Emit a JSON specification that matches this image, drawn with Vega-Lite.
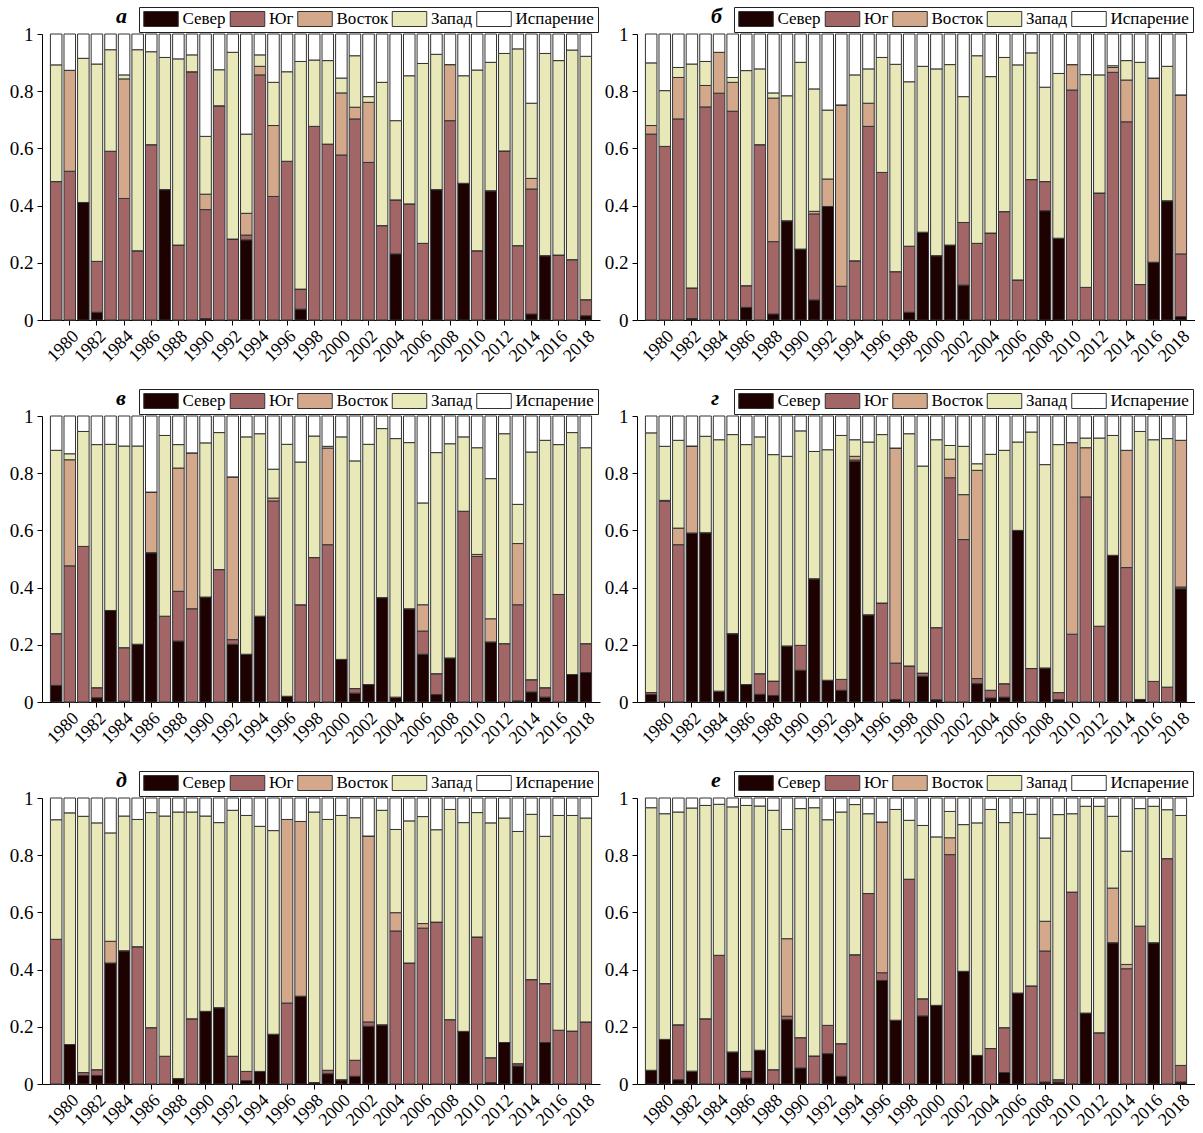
{
"$schema": "https://vega.github.io/schema/vega-lite/v6.json",
"padding": {"left": 9, "top": 4, "right": 0, "bottom": 0},
"config": {
 "font": "Liberation Serif",
 "view": {"stroke": null},
 "axis": {"grid": false, "domainColor": "#000", "tickColor": "#000", "labelColor": "#000", "labelFont": "Liberation Serif", "labelFontSize": 18, "title": null, "tickSize": 5, "domainWidth": 1, "tickWidth": 1},
 "legend": {"orient": "none", "legendX": 97, "legendY": -27, "direction": "horizontal", "title": null, "symbolType": "M-2.3,-1H2.3V1H-2.3Z", "symbolSize": 225, "symbolStrokeColor": "#333", "symbolStrokeWidth": 1, "symbolOffset": 10, "labelOffset": 13, "labelFont": "Liberation Serif", "labelFontSize": 17, "labelColor": "#000", "strokeColor": "#222", "fillColor": "#fff", "padding": 3.5, "columnPadding": 1.5, "symbolOpacity": 1},
 "title": {"font": "Liberation Serif", "fontSize": 22, "fontStyle": "italic", "fontWeight": "bold", "anchor": "start", "frame": "group", "dx": 74, "dy": 25, "color": "#000"}
},
"datasets": {
"a": [
{"year":1979,"Север":0,"Юг":0.484,"Восток":0,"Запад":0.408,"Испарение":0.108},
{"year":1980,"Север":0,"Юг":0.52,"Восток":0.353,"Запад":0,"Испарение":0.127},
{"year":1981,"Север":0.411,"Юг":0,"Восток":0,"Запад":0.504,"Испарение":0.085},
{"year":1982,"Север":0.027,"Юг":0.178,"Восток":0,"Запад":0.69,"Испарение":0.105},
{"year":1983,"Север":0,"Юг":0.59,"Восток":0,"Запад":0.355,"Испарение":0.055},
{"year":1984,"Север":0,"Юг":0.425,"Восток":0.418,"Запад":0.014,"Испарение":0.143},
{"year":1985,"Север":0,"Юг":0.242,"Восток":0,"Запад":0.703,"Испарение":0.055},
{"year":1986,"Север":0,"Юг":0.613,"Восток":0,"Запад":0.325,"Испарение":0.062},
{"year":1987,"Север":0.456,"Юг":0,"Восток":0,"Запад":0.462,"Испарение":0.082},
{"year":1988,"Север":0,"Юг":0.262,"Восток":0,"Запад":0.651,"Испарение":0.087},
{"year":1989,"Север":0,"Юг":0.868,"Восток":0,"Запад":0.059,"Испарение":0.073},
{"year":1990,"Север":0.005,"Юг":0.381,"Восток":0.054,"Запад":0.202,"Испарение":0.358},
{"year":1991,"Север":0,"Юг":0.749,"Восток":0,"Запад":0.126,"Испарение":0.125},
{"year":1992,"Север":0,"Юг":0.283,"Восток":0,"Запад":0.653,"Испарение":0.064},
{"year":1993,"Север":0.28,"Юг":0.017,"Восток":0.076,"Запад":0.277,"Испарение":0.35},
{"year":1994,"Север":0,"Юг":0.857,"Восток":0.03,"Запад":0.04,"Испарение":0.073},
{"year":1995,"Север":0,"Юг":0.432,"Восток":0.248,"Запад":0.151,"Испарение":0.169},
{"year":1996,"Север":0,"Юг":0.555,"Восток":0,"Запад":0.313,"Испарение":0.132},
{"year":1997,"Север":0.038,"Юг":0.07,"Восток":0,"Запад":0.796,"Испарение":0.096},
{"year":1998,"Север":0,"Юг":0.677,"Восток":0,"Запад":0.232,"Испарение":0.091},
{"year":1999,"Север":0,"Юг":0.615,"Восток":0,"Запад":0.292,"Испарение":0.093},
{"year":2000,"Север":0,"Юг":0.577,"Восток":0.217,"Запад":0.052,"Испарение":0.154},
{"year":2001,"Север":0,"Юг":0.703,"Восток":0.041,"Запад":0.18,"Испарение":0.076},
{"year":2002,"Север":0,"Юг":0.551,"Восток":0.21,"Запад":0.02,"Испарение":0.219},
{"year":2003,"Север":0,"Юг":0.33,"Восток":0,"Запад":0.501,"Испарение":0.169},
{"year":2004,"Север":0.231,"Юг":0.189,"Восток":0,"Запад":0.277,"Испарение":0.303},
{"year":2005,"Север":0,"Юг":0.406,"Восток":0,"Запад":0.448,"Испарение":0.146},
{"year":2006,"Север":0,"Юг":0.268,"Восток":0,"Запад":0.629,"Испарение":0.103},
{"year":2007,"Север":0.456,"Юг":0,"Восток":0,"Запад":0.473,"Испарение":0.071},
{"year":2008,"Север":0,"Юг":0.697,"Восток":0.196,"Запад":0,"Испарение":0.107},
{"year":2009,"Север":0.478,"Юг":0,"Восток":0,"Запад":0.376,"Испарение":0.146},
{"year":2010,"Север":0,"Юг":0.242,"Восток":0,"Запад":0.632,"Испарение":0.126},
{"year":2011,"Север":0.452,"Юг":0,"Восток":0,"Запад":0.449,"Испарение":0.099},
{"year":2012,"Север":0,"Юг":0.591,"Восток":0,"Запад":0.341,"Испарение":0.068},
{"year":2013,"Север":0,"Юг":0.26,"Восток":0,"Запад":0.688,"Испарение":0.052},
{"year":2014,"Север":0.021,"Юг":0.437,"Восток":0.037,"Запад":0.263,"Испарение":0.242},
{"year":2015,"Север":0.225,"Юг":0,"Восток":0,"Запад":0.707,"Испарение":0.068},
{"year":2016,"Север":0,"Юг":0.227,"Восток":0,"Запад":0.68,"Испарение":0.093},
{"year":2017,"Север":0,"Юг":0.211,"Восток":0,"Запад":0.733,"Испарение":0.056},
{"year":2018,"Север":0.015,"Юг":0.056,"Восток":0,"Запад":0.851,"Испарение":0.078}
],
"b": [
{"year":1979,"Север":0,"Юг":0.65,"Восток":0.03,"Запад":0.219,"Испарение":0.101},
{"year":1980,"Север":0,"Юг":0.607,"Восток":0,"Запад":0.195,"Испарение":0.198},
{"year":1981,"Север":0,"Юг":0.703,"Восток":0.145,"Запад":0.035,"Испарение":0.117},
{"year":1982,"Север":0.005,"Юг":0.107,"Восток":0,"Запад":0.783,"Испарение":0.105},
{"year":1983,"Север":0,"Юг":0.745,"Восток":0.075,"Запад":0.084,"Испарение":0.096},
{"year":1984,"Север":0,"Юг":0.793,"Восток":0.143,"Запад":0,"Испарение":0.064},
{"year":1985,"Север":0,"Юг":0.73,"Восток":0.101,"Запад":0.017,"Испарение":0.152},
{"year":1986,"Север":0.044,"Юг":0.076,"Восток":0,"Запад":0.752,"Испарение":0.128},
{"year":1987,"Север":0,"Юг":0.613,"Восток":0,"Запад":0.265,"Испарение":0.122},
{"year":1988,"Север":0.021,"Юг":0.253,"Восток":0.502,"Запад":0.018,"Испарение":0.206},
{"year":1989,"Север":0.347,"Юг":0,"Восток":0,"Запад":0.437,"Испарение":0.216},
{"year":1990,"Север":0.248,"Юг":0,"Восток":0,"Запад":0.653,"Испарение":0.099},
{"year":1991,"Север":0.07,"Юг":0.301,"Восток":0.009,"Запад":0.428,"Испарение":0.192},
{"year":1992,"Север":0.397,"Юг":0,"Восток":0.096,"Запад":0.241,"Испарение":0.266},
{"year":1993,"Север":0,"Юг":0.118,"Восток":0.634,"Запад":0,"Испарение":0.248},
{"year":1994,"Север":0,"Юг":0.207,"Восток":0,"Запад":0.65,"Испарение":0.143},
{"year":1995,"Север":0,"Юг":0.677,"Восток":0.081,"Запад":0.12,"Испарение":0.122},
{"year":1996,"Север":0,"Юг":0.516,"Восток":0,"Запад":0.402,"Испарение":0.082},
{"year":1997,"Север":0,"Юг":0.169,"Восток":0,"Запад":0.725,"Испарение":0.106},
{"year":1998,"Север":0.027,"Юг":0.231,"Восток":0,"Запад":0.575,"Испарение":0.167},
{"year":1999,"Север":0.307,"Юг":0,"Восток":0,"Запад":0.58,"Испарение":0.113},
{"year":2000,"Север":0.225,"Юг":0,"Восток":0,"Запад":0.653,"Испарение":0.122},
{"year":2001,"Север":0.262,"Юг":0,"Восток":0,"Запад":0.631,"Испарение":0.107},
{"year":2002,"Север":0.122,"Юг":0.219,"Восток":0,"Запад":0.44,"Испарение":0.219},
{"year":2003,"Север":0,"Юг":0.268,"Восток":0,"Запад":0.656,"Испарение":0.076},
{"year":2004,"Север":0,"Юг":0.304,"Восток":0,"Запад":0.547,"Испарение":0.149},
{"year":2005,"Север":0,"Юг":0.379,"Восток":0,"Запад":0.539,"Испарение":0.082},
{"year":2006,"Север":0,"Юг":0.14,"Восток":0,"Запад":0.752,"Испарение":0.108},
{"year":2007,"Север":0,"Юг":0.491,"Восток":0,"Запад":0.443,"Испарение":0.066},
{"year":2008,"Север":0.382,"Юг":0.102,"Восток":0,"Запад":0.33,"Испарение":0.186},
{"year":2009,"Север":0.286,"Юг":0,"Восток":0,"Запад":0.576,"Испарение":0.138},
{"year":2010,"Север":0,"Юг":0.804,"Восток":0.089,"Запад":0,"Испарение":0.107},
{"year":2011,"Север":0,"Юг":0.114,"Восток":0,"Запад":0.744,"Испарение":0.142},
{"year":2012,"Север":0,"Юг":0.444,"Восток":0,"Запад":0.413,"Испарение":0.143},
{"year":2013,"Север":0,"Юг":0.866,"Восток":0.017,"Запад":0.006,"Испарение":0.111},
{"year":2014,"Север":0,"Юг":0.693,"Восток":0.146,"Запад":0.068,"Испарение":0.093},
{"year":2015,"Север":0,"Юг":0.124,"Восток":0,"Запад":0.777,"Испарение":0.099},
{"year":2016,"Север":0.202,"Юг":0,"Восток":0.644,"Запад":0,"Испарение":0.154},
{"year":2017,"Север":0.417,"Юг":0,"Восток":0,"Запад":0.47,"Испарение":0.113},
{"year":2018,"Север":0.012,"Юг":0.219,"Восток":0.556,"Запад":0,"Испарение":0.213}
],
"c": [
{"year":1979,"Север":0.058,"Юг":0.181,"Восток":0,"Запад":0.641,"Испарение":0.12},
{"year":1980,"Север":0,"Юг":0.476,"Восток":0.371,"Запад":0.021,"Испарение":0.132},
{"year":1981,"Север":0,"Юг":0.544,"Восток":0,"Запад":0.402,"Испарение":0.054},
{"year":1982,"Север":0.015,"Юг":0.035,"Восток":0,"Запад":0.85,"Испарение":0.1},
{"year":1983,"Север":0.32,"Юг":0,"Восток":0,"Запад":0.581,"Испарение":0.099},
{"year":1984,"Север":0.003,"Юг":0.187,"Восток":0,"Запад":0.705,"Испарение":0.105},
{"year":1985,"Север":0.202,"Юг":0,"Восток":0,"Запад":0.693,"Испарение":0.105},
{"year":1986,"Север":0.522,"Юг":0,"Восток":0.212,"Запад":0,"Испарение":0.266},
{"year":1987,"Север":0,"Юг":0.3,"Восток":0,"Запад":0.632,"Испарение":0.068},
{"year":1988,"Север":0.213,"Юг":0.174,"Восток":0.431,"Запад":0.082,"Испарение":0.1},
{"year":1989,"Север":0,"Юг":0.326,"Восток":0.545,"Запад":0,"Испарение":0.129},
{"year":1990,"Север":0.367,"Юг":0,"Восток":0,"Запад":0.539,"Испарение":0.094},
{"year":1991,"Север":0,"Юг":0.463,"Восток":0,"Запад":0.479,"Испарение":0.058},
{"year":1992,"Север":0.202,"Юг":0.016,"Восток":0.569,"Запад":0,"Испарение":0.213},
{"year":1993,"Север":0.167,"Юг":0,"Восток":0,"Запад":0.76,"Испарение":0.073},
{"year":1994,"Север":0.3,"Юг":0,"Восток":0,"Запад":0.638,"Испарение":0.062},
{"year":1995,"Север":0,"Юг":0.703,"Восток":0.01,"Запад":0.101,"Испарение":0.186},
{"year":1996,"Север":0.02,"Юг":0,"Восток":0,"Запад":0.881,"Испарение":0.099},
{"year":1997,"Север":0,"Юг":0.34,"Восток":0,"Запад":0.499,"Испарение":0.161},
{"year":1998,"Север":0,"Юг":0.505,"Восток":0,"Запад":0.425,"Испарение":0.07},
{"year":1999,"Север":0,"Юг":0.55,"Восток":0.338,"Запад":0.006,"Испарение":0.106},
{"year":2000,"Север":0.149,"Юг":0,"Восток":0,"Запад":0.778,"Испарение":0.073},
{"year":2001,"Север":0.031,"Юг":0.016,"Восток":0,"Запад":0.796,"Испарение":0.157},
{"year":2002,"Север":0.061,"Юг":0,"Восток":0,"Запад":0.84,"Испарение":0.099},
{"year":2003,"Север":0.365,"Юг":0,"Восток":0,"Запад":0.591,"Испарение":0.044},
{"year":2004,"Север":0.017,"Юг":0,"Восток":0,"Запад":0.904,"Испарение":0.079},
{"year":2005,"Север":0.326,"Юг":0,"Восток":0,"Запад":0.581,"Испарение":0.093},
{"year":2006,"Север":0.167,"Юг":0.081,"Восток":0.092,"Запад":0.356,"Испарение":0.304},
{"year":2007,"Север":0.026,"Юг":0.073,"Восток":0,"Запад":0.773,"Испарение":0.128},
{"year":2008,"Север":0.154,"Юг":0,"Восток":0,"Запад":0.749,"Испарение":0.097},
{"year":2009,"Север":0,"Юг":0.667,"Восток":0,"Запад":0.26,"Испарение":0.073},
{"year":2010,"Север":0,"Юг":0.509,"Восток":0.007,"Запад":0.373,"Испарение":0.111},
{"year":2011,"Север":0.21,"Юг":0,"Восток":0.081,"Запад":0.49,"Испарение":0.219},
{"year":2012,"Север":0,"Юг":0.204,"Восток":0,"Запад":0.734,"Испарение":0.062},
{"year":2013,"Север":0.004,"Юг":0.336,"Восток":0.214,"Запад":0.137,"Испарение":0.309},
{"year":2014,"Север":0.035,"Юг":0.043,"Восток":0,"Запад":0.796,"Испарение":0.126},
{"year":2015,"Север":0.017,"Юг":0.033,"Восток":0,"Запад":0.865,"Испарение":0.085},
{"year":2016,"Север":0,"Юг":0.376,"Восток":0,"Запад":0.524,"Испарение":0.1},
{"year":2017,"Север":0.096,"Юг":0,"Восток":0,"Запад":0.846,"Испарение":0.058},
{"year":2018,"Север":0.103,"Юг":0.101,"Восток":0,"Запад":0.685,"Испарение":0.111}
],
"d": [
{"year":1979,"Север":0.026,"Юг":0.007,"Восток":0,"Запад":0.908,"Испарение":0.059},
{"year":1980,"Север":0,"Юг":0.702,"Восток":0.003,"Запад":0.189,"Испарение":0.106},
{"year":1981,"Север":0,"Юг":0.55,"Восток":0.058,"Запад":0.307,"Испарение":0.085},
{"year":1982,"Север":0.591,"Юг":0,"Восток":0.304,"Запад":0,"Испарение":0.105},
{"year":1983,"Север":0.592,"Юг":0,"Восток":0,"Запад":0.337,"Испарение":0.071},
{"year":1984,"Север":0.038,"Юг":0,"Восток":0,"Запад":0.879,"Испарение":0.083},
{"year":1985,"Север":0.239,"Юг":0,"Восток":0,"Запад":0.696,"Испарение":0.065},
{"year":1986,"Север":0.061,"Юг":0,"Восток":0,"Запад":0.839,"Испарение":0.1},
{"year":1987,"Север":0.027,"Юг":0.072,"Восток":0,"Запад":0.828,"Испарение":0.073},
{"year":1988,"Север":0.023,"Юг":0.05,"Восток":0,"Запад":0.792,"Испарение":0.135},
{"year":1989,"Север":0.196,"Юг":0,"Восток":0,"Запад":0.663,"Испарение":0.141},
{"year":1990,"Север":0.111,"Юг":0.087,"Восток":0,"Запад":0.75,"Испарение":0.052},
{"year":1991,"Север":0.431,"Юг":0,"Восток":0,"Запад":0.445,"Испарение":0.124},
{"year":1992,"Север":0.076,"Юг":0,"Восток":0,"Запад":0.806,"Испарение":0.118},
{"year":1993,"Север":0.041,"Юг":0.038,"Восток":0,"Запад":0.853,"Испарение":0.068},
{"year":1994,"Север":0.841,"Юг":0.005,"Восток":0.013,"Запад":0.058,"Испарение":0.083},
{"year":1995,"Север":0.305,"Юг":0,"Восток":0,"Запад":0.604,"Испарение":0.091},
{"year":1996,"Север":0,"Юг":0.346,"Восток":0,"Запад":0.589,"Испарение":0.065},
{"year":1997,"Север":0.009,"Юг":0.127,"Восток":0.752,"Запад":0,"Испарение":0.112},
{"year":1998,"Север":0,"Юг":0.126,"Восток":0,"Запад":0.812,"Испарение":0.062},
{"year":1999,"Север":0.09,"Юг":0.011,"Восток":0,"Запад":0.724,"Испарение":0.175},
{"year":2000,"Север":0.008,"Юг":0.252,"Восток":0,"Запад":0.657,"Испарение":0.083},
{"year":2001,"Север":0,"Юг":0.784,"Восток":0.065,"Запад":0.048,"Испарение":0.103},
{"year":2002,"Север":0,"Юг":0.568,"Восток":0.157,"Запад":0.169,"Испарение":0.106},
{"year":2003,"Север":0.064,"Юг":0.018,"Восток":0.728,"Запад":0.023,"Испарение":0.167},
{"year":2004,"Север":0.014,"Юг":0.027,"Восток":0,"Запад":0.825,"Испарение":0.134},
{"year":2005,"Север":0.017,"Юг":0.047,"Восток":0,"Запад":0.816,"Испарение":0.12},
{"year":2006,"Север":0.6,"Юг":0,"Восток":0,"Запад":0.309,"Испарение":0.091},
{"year":2007,"Север":0,"Юг":0.117,"Восток":0,"Запад":0.827,"Испарение":0.056},
{"year":2008,"Север":0.119,"Юг":0,"Восток":0,"Запад":0.711,"Испарение":0.17},
{"year":2009,"Север":0.008,"Юг":0.025,"Восток":0,"Запад":0.867,"Испарение":0.1},
{"year":2010,"Север":0,"Юг":0.237,"Восток":0.67,"Запад":0,"Испарение":0.093},
{"year":2011,"Север":0,"Юг":0.717,"Восток":0.172,"Запад":0.034,"Испарение":0.077},
{"year":2012,"Север":0,"Юг":0.265,"Восток":0,"Запад":0.658,"Испарение":0.077},
{"year":2013,"Север":0.513,"Юг":0,"Восток":0,"Запад":0.419,"Испарение":0.068},
{"year":2014,"Север":0,"Юг":0.47,"Восток":0.41,"Запад":0,"Испарение":0.12},
{"year":2015,"Север":0.009,"Юг":0,"Восток":0,"Запад":0.937,"Испарение":0.054},
{"year":2016,"Север":0,"Юг":0.072,"Восток":0,"Запад":0.845,"Испарение":0.083},
{"year":2017,"Север":0,"Юг":0.052,"Восток":0,"Запад":0.869,"Испарение":0.079},
{"year":2018,"Север":0.396,"Юг":0.006,"Восток":0.513,"Запад":0,"Испарение":0.085}
],
"e": [
{"year":1979,"Север":0,"Юг":0.506,"Восток":0,"Запад":0.418,"Испарение":0.076},
{"year":1980,"Север":0.138,"Юг":0,"Восток":0,"Запад":0.81,"Испарение":0.052},
{"year":1981,"Север":0.03,"Юг":0.01,"Восток":0,"Запад":0.896,"Испарение":0.064},
{"year":1982,"Север":0.03,"Юг":0.02,"Восток":0,"Запад":0.863,"Испарение":0.087},
{"year":1983,"Север":0.423,"Юг":0,"Восток":0.076,"Запад":0.379,"Испарение":0.122},
{"year":1984,"Север":0.466,"Юг":0,"Восток":0,"Запад":0.471,"Испарение":0.063},
{"year":1985,"Север":0,"Юг":0.48,"Восток":0,"Запад":0.445,"Испарение":0.075},
{"year":1986,"Север":0,"Юг":0.197,"Восток":0,"Запад":0.752,"Испарение":0.051},
{"year":1987,"Север":0,"Юг":0.097,"Восток":0,"Запад":0.84,"Испарение":0.063},
{"year":1988,"Север":0.019,"Юг":0,"Восток":0,"Запад":0.932,"Испарение":0.049},
{"year":1989,"Север":0,"Юг":0.228,"Восток":0,"Запад":0.723,"Испарение":0.049},
{"year":1990,"Север":0.254,"Юг":0,"Восток":0,"Запад":0.683,"Испарение":0.063},
{"year":1991,"Север":0.267,"Юг":0,"Восток":0,"Запад":0.647,"Испарение":0.086},
{"year":1992,"Север":0,"Юг":0.097,"Восток":0,"Запад":0.86,"Испарение":0.043},
{"year":1993,"Север":0.012,"Юг":0.032,"Восток":0,"Запад":0.895,"Испарение":0.061},
{"year":1994,"Север":0.044,"Юг":0,"Восток":0,"Запад":0.857,"Испарение":0.099},
{"year":1995,"Север":0.174,"Юг":0,"Восток":0,"Запад":0.712,"Испарение":0.114},
{"year":1996,"Север":0,"Юг":0.283,"Восток":0.642,"Запад":0,"Испарение":0.075},
{"year":1997,"Север":0.307,"Юг":0,"Восток":0.611,"Запад":0,"Испарение":0.082},
{"year":1998,"Север":0.005,"Юг":0,"Восток":0,"Запад":0.946,"Испарение":0.049},
{"year":1999,"Север":0.036,"Юг":0.012,"Восток":0,"Запад":0.877,"Испарение":0.075},
{"year":2000,"Север":0.015,"Юг":0,"Восток":0,"Запад":0.924,"Испарение":0.061},
{"year":2001,"Север":0.027,"Юг":0.056,"Восток":0,"Запад":0.848,"Испарение":0.069},
{"year":2002,"Север":0.202,"Юг":0.015,"Восток":0.65,"Запад":0,"Испарение":0.133},
{"year":2003,"Север":0.207,"Юг":0,"Восток":0,"Запад":0.75,"Испарение":0.043},
{"year":2004,"Север":0,"Юг":0.535,"Восток":0.064,"Запад":0.291,"Испарение":0.11},
{"year":2005,"Север":0,"Юг":0.423,"Восток":0,"Запад":0.497,"Испарение":0.08},
{"year":2006,"Север":0,"Юг":0.545,"Восток":0.016,"Запад":0.374,"Испарение":0.065},
{"year":2007,"Север":0,"Юг":0.566,"Восток":0,"Запад":0.323,"Испарение":0.111},
{"year":2008,"Север":0,"Юг":0.225,"Восток":0,"Запад":0.735,"Испарение":0.04},
{"year":2009,"Север":0.184,"Юг":0,"Восток":0,"Запад":0.73,"Испарение":0.086},
{"year":2010,"Север":0,"Юг":0.514,"Восток":0,"Запад":0.435,"Испарение":0.051},
{"year":2011,"Север":0.005,"Юг":0.087,"Восток":0,"Запад":0.821,"Испарение":0.087},
{"year":2012,"Север":0.145,"Юг":0,"Восток":0,"Запад":0.785,"Испарение":0.07},
{"year":2013,"Север":0.063,"Юг":0.008,"Восток":0,"Запад":0.812,"Испарение":0.117},
{"year":2014,"Север":0,"Юг":0.365,"Восток":0,"Запад":0.578,"Испарение":0.057},
{"year":2015,"Север":0.145,"Юг":0.206,"Восток":0,"Запад":0.515,"Испарение":0.134},
{"year":2016,"Север":0,"Юг":0.188,"Восток":0,"Запад":0.751,"Испарение":0.061},
{"year":2017,"Север":0,"Юг":0.185,"Восток":0,"Запад":0.754,"Испарение":0.061},
{"year":2018,"Север":0,"Юг":0.217,"Восток":0,"Запад":0.713,"Испарение":0.07}
],
"f": [
{"year":1979,"Север":0.048,"Юг":0,"Восток":0,"Запад":0.918,"Испарение":0.034},
{"year":1980,"Север":0.156,"Юг":0,"Восток":0,"Запад":0.789,"Испарение":0.055},
{"year":1981,"Север":0.015,"Юг":0.192,"Восток":0,"Запад":0.744,"Испарение":0.049},
{"year":1982,"Север":0.045,"Юг":0,"Восток":0,"Запад":0.92,"Испарение":0.035},
{"year":1983,"Север":0,"Юг":0.228,"Восток":0,"Запад":0.746,"Испарение":0.026},
{"year":1984,"Север":0,"Юг":0.45,"Восток":0,"Запад":0.528,"Испарение":0.022},
{"year":1985,"Север":0.112,"Юг":0,"Восток":0,"Запад":0.857,"Испарение":0.031},
{"year":1986,"Север":0.021,"Юг":0.023,"Восток":0,"Запад":0.93,"Испарение":0.026},
{"year":1987,"Север":0.118,"Юг":0,"Восток":0,"Запад":0.854,"Испарение":0.028},
{"year":1988,"Север":0,"Юг":0.05,"Восток":0,"Запад":0.907,"Испарение":0.043},
{"year":1989,"Север":0.225,"Юг":0.012,"Восток":0.271,"Запад":0.382,"Испарение":0.11},
{"year":1990,"Север":0.056,"Юг":0.106,"Восток":0,"Запад":0.801,"Испарение":0.037},
{"year":1991,"Север":0,"Юг":0.098,"Восток":0,"Запад":0.868,"Испарение":0.034},
{"year":1992,"Север":0.106,"Юг":0.099,"Восток":0,"Запад":0.719,"Испарение":0.076},
{"year":1993,"Север":0.027,"Юг":0.114,"Восток":0,"Запад":0.81,"Испарение":0.049},
{"year":1994,"Север":0,"Юг":0.452,"Восток":0,"Запад":0.525,"Испарение":0.023},
{"year":1995,"Север":0,"Юг":0.666,"Восток":0,"Запад":0.279,"Испарение":0.055},
{"year":1996,"Север":0.362,"Юг":0.027,"Восток":0.527,"Запад":0,"Испарение":0.084},
{"year":1997,"Север":0.223,"Юг":0,"Восток":0,"Запад":0.737,"Испарение":0.04},
{"year":1998,"Север":0,"Юг":0.716,"Восток":0,"Запад":0.206,"Испарение":0.078},
{"year":1999,"Север":0.238,"Юг":0.06,"Восток":0,"Запад":0.606,"Испарение":0.096},
{"year":2000,"Север":0.275,"Юг":0,"Восток":0,"Запад":0.589,"Испарение":0.136},
{"year":2001,"Север":0,"Юг":0.802,"Восток":0.059,"Запад":0.092,"Испарение":0.047},
{"year":2002,"Север":0.394,"Юг":0,"Восток":0,"Запад":0.513,"Испарение":0.093},
{"year":2003,"Север":0.1,"Юг":0,"Восток":0,"Запад":0.813,"Испарение":0.087},
{"year":2004,"Север":0,"Юг":0.124,"Восток":0,"Запад":0.836,"Испарение":0.04},
{"year":2005,"Север":0.04,"Юг":0.157,"Восток":0,"Запад":0.717,"Испарение":0.086},
{"year":2006,"Север":0.318,"Юг":0,"Восток":0,"Запад":0.631,"Испарение":0.051},
{"year":2007,"Север":0,"Юг":0.343,"Восток":0,"Запад":0.6,"Испарение":0.057},
{"year":2008,"Север":0.007,"Юг":0.458,"Восток":0.104,"Запад":0.291,"Испарение":0.14},
{"year":2009,"Север":0.007,"Юг":0.008,"Восток":0,"Запад":0.927,"Испарение":0.058},
{"year":2010,"Север":0,"Юг":0.671,"Восток":0,"Запад":0.274,"Испарение":0.055},
{"year":2011,"Север":0.248,"Юг":0,"Восток":0,"Запад":0.723,"Испарение":0.029},
{"year":2012,"Север":0,"Юг":0.179,"Восток":0,"Запад":0.792,"Испарение":0.029},
{"year":2013,"Север":0.494,"Юг":0,"Восток":0.191,"Запад":0.251,"Испарение":0.064},
{"year":2014,"Север":0,"Юг":0.403,"Восток":0.015,"Запад":0.396,"Испарение":0.186},
{"year":2015,"Север":0,"Юг":0.552,"Восток":0,"Запад":0.411,"Испарение":0.037},
{"year":2016,"Север":0.494,"Юг":0,"Восток":0,"Запад":0.477,"Испарение":0.029},
{"year":2017,"Север":0,"Юг":0.788,"Восток":0,"Запад":0.171,"Испарение":0.041},
{"year":2018,"Север":0.007,"Юг":0.058,"Восток":0,"Запад":0.874,"Испарение":0.061}
]
},
"columns": 2,
"spacing": {"column": 4, "row": 20},
"resolve": {"scale": {"color": "independent"}, "legend": {"color": "independent"}},
"concat": [
{"title": "а", "width": 558, "height": 286, "data": {"name": "a"},
 "transform": [{"fold": ["Север","Юг","Восток","Запад","Испарение"], "as": ["k","v"]}, {"calculate": "indexof(['Север','Юг','Восток','Запад','Испарение'], datum.k)", "as": "o"}],
 "mark": {"type": "bar", "stroke": "#333", "strokeWidth": 1},
 "encoding": {
  "x": {"field": "year", "type": "ordinal", "scale": {"paddingInner": 0.15, "paddingOuter": 0.62}, "axis": {"values": [1980,1982,1984,1986,1988,1990,1992,1994,1996,1998,2000,2002,2004,2006,2008,2010,2012,2014,2016,2018], "labelAngle": -45, "labelPadding": 2}},
  "y": {"field": "v", "type": "quantitative", "stack": "zero", "scale": {"domain": [0,1], "nice": false}, "axis": {"values": [0,0.2,0.4,0.6,0.8,1], "format": "~g", "labelFontSize": 19, "labelPadding": 4}},
  "color": {"field": "k", "type": "nominal", "sort": ["Север","Юг","Восток","Запад","Испарение"], "scale": {"domain": ["Север","Юг","Восток","Запад","Испарение"], "range": ["#1e0101","#a36666","#d4a98b","#e8e8b9","#ffffff"]}},
  "order": {"field": "o", "type": "quantitative"}
 }},
{"title": "б", "width": 558, "height": 286, "data": {"name": "b"},
 "transform": [{"fold": ["Север","Юг","Восток","Запад","Испарение"], "as": ["k","v"]}, {"calculate": "indexof(['Север','Юг','Восток','Запад','Испарение'], datum.k)", "as": "o"}],
 "mark": {"type": "bar", "stroke": "#333", "strokeWidth": 1},
 "encoding": {
  "x": {"field": "year", "type": "ordinal", "scale": {"paddingInner": 0.15, "paddingOuter": 0.62}, "axis": {"values": [1980,1982,1984,1986,1988,1990,1992,1994,1996,1998,2000,2002,2004,2006,2008,2010,2012,2014,2016,2018], "labelAngle": -45, "labelPadding": 2}},
  "y": {"field": "v", "type": "quantitative", "stack": "zero", "scale": {"domain": [0,1], "nice": false}, "axis": {"values": [0,0.2,0.4,0.6,0.8,1], "format": "~g", "labelFontSize": 19, "labelPadding": 4}},
  "color": {"field": "k", "type": "nominal", "sort": ["Север","Юг","Восток","Запад","Испарение"], "scale": {"domain": ["Север","Юг","Восток","Запад","Испарение"], "range": ["#1e0101","#a36666","#d4a98b","#e8e8b9","#ffffff"]}},
  "order": {"field": "o", "type": "quantitative"}
 }},
{"title": "в", "width": 558, "height": 286, "data": {"name": "c"},
 "transform": [{"fold": ["Север","Юг","Восток","Запад","Испарение"], "as": ["k","v"]}, {"calculate": "indexof(['Север','Юг','Восток','Запад','Испарение'], datum.k)", "as": "o"}],
 "mark": {"type": "bar", "stroke": "#333", "strokeWidth": 1},
 "encoding": {
  "x": {"field": "year", "type": "ordinal", "scale": {"paddingInner": 0.15, "paddingOuter": 0.62}, "axis": {"values": [1980,1982,1984,1986,1988,1990,1992,1994,1996,1998,2000,2002,2004,2006,2008,2010,2012,2014,2016,2018], "labelAngle": -45, "labelPadding": 2}},
  "y": {"field": "v", "type": "quantitative", "stack": "zero", "scale": {"domain": [0,1], "nice": false}, "axis": {"values": [0,0.2,0.4,0.6,0.8,1], "format": "~g", "labelFontSize": 19, "labelPadding": 4}},
  "color": {"field": "k", "type": "nominal", "sort": ["Север","Юг","Восток","Запад","Испарение"], "scale": {"domain": ["Север","Юг","Восток","Запад","Испарение"], "range": ["#1e0101","#a36666","#d4a98b","#e8e8b9","#ffffff"]}},
  "order": {"field": "o", "type": "quantitative"}
 }},
{"title": "г", "width": 558, "height": 286, "data": {"name": "d"},
 "transform": [{"fold": ["Север","Юг","Восток","Запад","Испарение"], "as": ["k","v"]}, {"calculate": "indexof(['Север','Юг','Восток','Запад','Испарение'], datum.k)", "as": "o"}],
 "mark": {"type": "bar", "stroke": "#333", "strokeWidth": 1},
 "encoding": {
  "x": {"field": "year", "type": "ordinal", "scale": {"paddingInner": 0.15, "paddingOuter": 0.62}, "axis": {"values": [1980,1982,1984,1986,1988,1990,1992,1994,1996,1998,2000,2002,2004,2006,2008,2010,2012,2014,2016,2018], "labelAngle": -45, "labelPadding": 2}},
  "y": {"field": "v", "type": "quantitative", "stack": "zero", "scale": {"domain": [0,1], "nice": false}, "axis": {"values": [0,0.2,0.4,0.6,0.8,1], "format": "~g", "labelFontSize": 19, "labelPadding": 4}},
  "color": {"field": "k", "type": "nominal", "sort": ["Север","Юг","Восток","Запад","Испарение"], "scale": {"domain": ["Север","Юг","Восток","Запад","Испарение"], "range": ["#1e0101","#a36666","#d4a98b","#e8e8b9","#ffffff"]}},
  "order": {"field": "o", "type": "quantitative"}
 }},
{"title": "д", "width": 558, "height": 286, "data": {"name": "e"},
 "transform": [{"fold": ["Север","Юг","Восток","Запад","Испарение"], "as": ["k","v"]}, {"calculate": "indexof(['Север','Юг','Восток','Запад','Испарение'], datum.k)", "as": "o"}],
 "mark": {"type": "bar", "stroke": "#333", "strokeWidth": 1},
 "encoding": {
  "x": {"field": "year", "type": "ordinal", "scale": {"paddingInner": 0.15, "paddingOuter": 0.62}, "axis": {"values": [1980,1982,1984,1986,1988,1990,1992,1994,1996,1998,2000,2002,2004,2006,2008,2010,2012,2014,2016,2018], "labelAngle": -45, "labelPadding": 2}},
  "y": {"field": "v", "type": "quantitative", "stack": "zero", "scale": {"domain": [0,1], "nice": false}, "axis": {"values": [0,0.2,0.4,0.6,0.8,1], "format": "~g", "labelFontSize": 19, "labelPadding": 4}},
  "color": {"field": "k", "type": "nominal", "sort": ["Север","Юг","Восток","Запад","Испарение"], "scale": {"domain": ["Север","Юг","Восток","Запад","Испарение"], "range": ["#1e0101","#a36666","#d4a98b","#e8e8b9","#ffffff"]}},
  "order": {"field": "o", "type": "quantitative"}
 }},
{"title": "е", "width": 558, "height": 286, "data": {"name": "f"},
 "transform": [{"fold": ["Север","Юг","Восток","Запад","Испарение"], "as": ["k","v"]}, {"calculate": "indexof(['Север','Юг','Восток','Запад','Испарение'], datum.k)", "as": "o"}],
 "mark": {"type": "bar", "stroke": "#333", "strokeWidth": 1},
 "encoding": {
  "x": {"field": "year", "type": "ordinal", "scale": {"paddingInner": 0.15, "paddingOuter": 0.62}, "axis": {"values": [1980,1982,1984,1986,1988,1990,1992,1994,1996,1998,2000,2002,2004,2006,2008,2010,2012,2014,2016,2018], "labelAngle": -45, "labelPadding": 2}},
  "y": {"field": "v", "type": "quantitative", "stack": "zero", "scale": {"domain": [0,1], "nice": false}, "axis": {"values": [0,0.2,0.4,0.6,0.8,1], "format": "~g", "labelFontSize": 19, "labelPadding": 4}},
  "color": {"field": "k", "type": "nominal", "sort": ["Север","Юг","Восток","Запад","Испарение"], "scale": {"domain": ["Север","Юг","Восток","Запад","Испарение"], "range": ["#1e0101","#a36666","#d4a98b","#e8e8b9","#ffffff"]}},
  "order": {"field": "o", "type": "quantitative"}
 }}
]
}
